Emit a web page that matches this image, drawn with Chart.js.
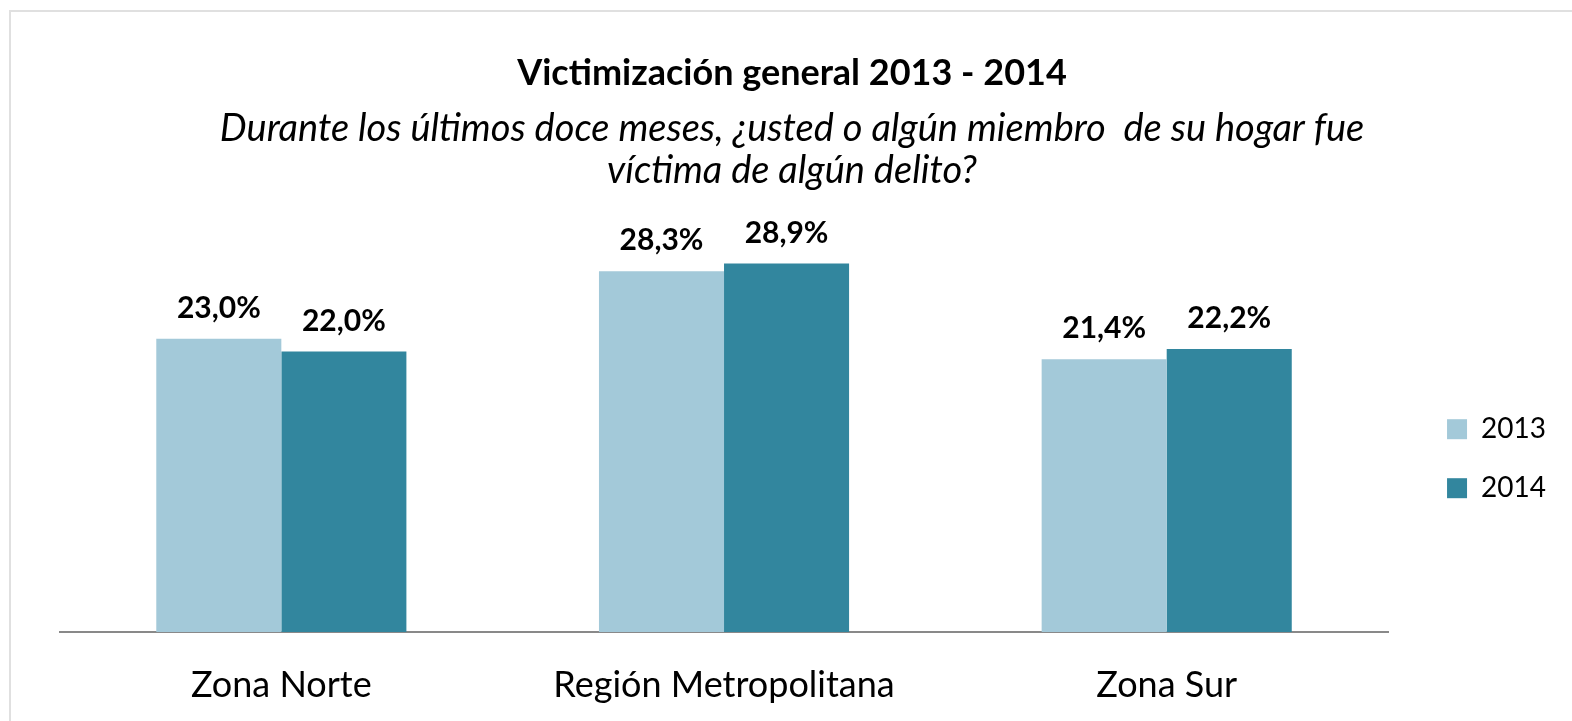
<!DOCTYPE html>
<html>
<head>
<meta charset="utf-8">
<script src="https://cdn.jsdelivr.net/npm/chart.js@4"></script>
<style>
    html, body { margin: 0; padding: 0; background: #fff; }
    #frame { position: absolute; left: 9px; top: 10px; width: 1570px; height: 720px; border: 2px solid #e0e0e0; border-bottom: none; }
    #chart { position: absolute; left: 0; top: 0; }
</style>
</head>
<body>
<div id="frame"></div>
<canvas id="chart" width="1572" height="721"></canvas>
<script>
const categories = ['Zona Norte', 'Región Metropolitana', 'Zona Sur'];
const seriesNames = ['2013', '2014'];
const values2013 = [23.0, 28.3, 21.4];
const values2014 = [22.0, 28.9, 22.2];

const titleText = 'Victimización general 2013 - 2014';
const subtitleLines = ['Durante los últimos doce meses, ¿usted o algún miembro  de su hogar fue', 'víctima de algún delito?'];

const FONT = "Lato, 'Open Sans', sans-serif";
const fmtPct = v => v.toFixed(1).replace('.', ',') + '%';

// value labels above each bar
const barLabels = {
    id: 'barLabels',
    afterDatasetsDraw(chart) {
        const { ctx } = chart;
        ctx.save();
        ctx.font = `bold 30px ${FONT}`;
        ctx.fillStyle = '#000';
        ctx.textAlign = 'center';
        ctx.textBaseline = 'alphabetic';
        chart.data.datasets.forEach((ds, i) => {
            chart.getDatasetMeta(i).data.forEach((bar, j) => {
                ctx.fillText(fmtPct(ds.data[j]), bar.x, bar.y - 21);
            });
        });
        ctx.restore();
    }
};

new Chart(document.getElementById('chart'), {
    type: 'bar',
    data: {
        labels: categories,
        datasets: [
            { label: seriesNames[0], data: values2013, backgroundColor: '#a3c9d9', categoryPercentage: 0.565, barPercentage: 1 },
            { label: seriesNames[1], data: values2014, backgroundColor: '#32869e', categoryPercentage: 0.565, barPercentage: 1 }
        ]
    },
    options: {
        responsive: false,
        animation: false,
        layout: { padding: { left: 28, right: 16, top: 0, bottom: 0 } },
        plugins: {
            title: {
                display: true,
                text: titleText,
                color: '#000',
                font: { family: FONT, size: 36, weight: 'bold' },
                padding: { top: 52, bottom: 0 }
            },
            subtitle: {
                display: true,
                text: subtitleLines,
                color: '#000',
                font: { family: FONT, size: 38, style: 'italic', lineHeight: 1.105 },
                padding: { top: 13, bottom: 0 }
            },
            legend: {
                position: 'right',
                title: { display: true, text: '', padding: { top: 182, bottom: 0 }, font: { size: 12 } },
                labels: {
                    color: '#000',
                    font: { family: FONT, size: 28 },
                    boxWidth: 20,
                    boxHeight: 20,
                    padding: 31
                }
            },
            tooltip: { enabled: false }
        },
        scales: {
            x: {
                grid: { display: false, drawTicks: false },
                border: { display: true, color: '#898989', width: 2 },
                ticks: { color: '#000', font: { family: FONT, size: 36 }, padding: 32 },
                afterFit: s => { s.height = 89; }
            },
            y: {
                display: true,
                min: 0,
                max: 34.5,
                grid: { display: false, drawTicks: false },
                border: { display: false },
                ticks: { display: false },
                afterFit: s => { s.width = 32; }
            },
            y2: {
                position: 'right',
                display: true,
                grid: { display: false, drawTicks: false },
                border: { display: false },
                ticks: { display: false },
                afterFit: s => { s.width = 28; }
            }
        }
    },
    plugins: [barLabels]
});
</script>
</body>
</html>
